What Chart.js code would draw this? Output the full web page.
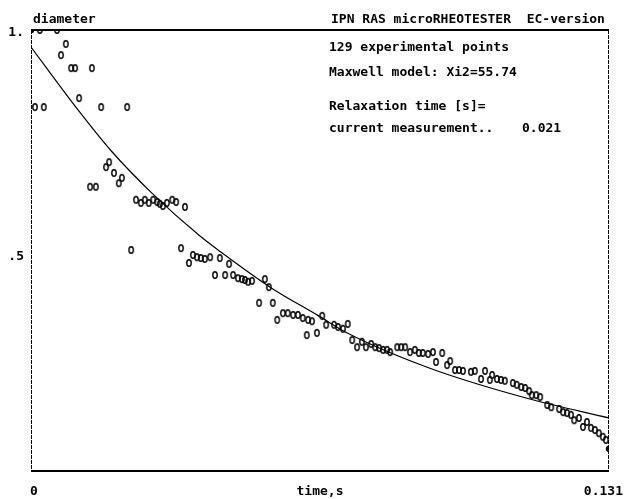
<!DOCTYPE html>
<html>
<head>
<meta charset="utf-8">
<script src="https://cdn.jsdelivr.net/npm/chart.js@4.4.1/dist/chart.umd.min.js"></script>
<style>
  body { margin: 0; background: #fff; }
  #wrap { width: 625px; height: 499px; }
</style>
</head>
<body>
<div id="wrap"><canvas id="relax" width="625" height="499"></canvas></div>
<script>
// measured points: time [s] and relative diameter
var times = [0, 0.0009, 0.0020, 0.0029, 0.0059, 0.0068, 0.0079, 0.0091, 0.0100, 0.0109,
    0.0134, 0.0138, 0.0147, 0.0159, 0.0170, 0.0177, 0.0188, 0.0199, 0.0206, 0.0218,
    0.0227, 0.0238, 0.0249, 0.0258, 0.0267, 0.0277, 0.0286, 0.0292, 0.0299, 0.0308,
    0.0320, 0.0329, 0.0340, 0.0349, 0.0358, 0.0367, 0.0376, 0.0385, 0.0394, 0.0406,
    0.0417, 0.0428, 0.0440, 0.0449, 0.0458, 0.0469, 0.0478, 0.0485, 0.0492, 0.0501,
    0.0517, 0.0530, 0.0539, 0.0548, 0.0558, 0.0571, 0.0582, 0.0594, 0.0605, 0.0616,
    0.0628, 0.0625, 0.0637, 0.0648, 0.0660, 0.0669, 0.0687, 0.0696, 0.0707, 0.0718,
    0.0728, 0.0739, 0.0750, 0.0759, 0.0771, 0.0780, 0.0789, 0.0798, 0.0807, 0.0814,
    0.0830, 0.0839, 0.0848, 0.0859, 0.0870, 0.0879, 0.0888, 0.0900, 0.0911, 0.0918,
    0.0932, 0.0943, 0.0950, 0.0961, 0.0970, 0.0979, 0.0997, 0.1006, 0.1020, 0.1029,
    0.1040, 0.1045, 0.1056, 0.1065, 0.1074, 0.1092, 0.1101, 0.1111, 0.1120, 0.1129,
    0.1135, 0.1145, 0.1154, 0.1170, 0.1179, 0.1197, 0.1206, 0.1215, 0.1224, 0.1231,
    0.1242, 0.1251, 0.1260, 0.1269, 0.1278, 0.1287, 0.1296, 0.1303, 0.1310];
var diameters = [1.0, 0.828, 1.0, 0.828, 1.0, 0.944, 0.969, 0.915, 0.915, 0.848,
    0.650, 0.915, 0.650, 0.828, 0.694, 0.705, 0.681, 0.658, 0.670, 0.828,
    0.509, 0.621, 0.614, 0.621, 0.614, 0.621, 0.616, 0.612, 0.607, 0.614,
    0.621, 0.616, 0.513, 0.605, 0.480, 0.498, 0.493, 0.491, 0.489, 0.493,
    0.453, 0.491, 0.453, 0.478, 0.453, 0.446, 0.444, 0.442, 0.438, 0.440,
    0.391, 0.444, 0.426, 0.391, 0.353, 0.368, 0.368, 0.364, 0.364, 0.357,
    0.353, 0.319, 0.350, 0.324, 0.362, 0.342, 0.342, 0.337, 0.333, 0.344,
    0.308, 0.292, 0.304, 0.292, 0.299, 0.292, 0.290, 0.286, 0.286, 0.281,
    0.292, 0.292, 0.292, 0.281, 0.286, 0.279, 0.279, 0.277, 0.281, 0.259,
    0.279, 0.252, 0.261, 0.241, 0.241, 0.239, 0.237, 0.239, 0.221, 0.239,
    0.219, 0.230, 0.221, 0.219, 0.217, 0.212, 0.208, 0.203, 0.201, 0.194,
    0.185, 0.185, 0.181, 0.163, 0.158, 0.154, 0.147, 0.145, 0.141, 0.129,
    0.134, 0.114, 0.125, 0.112, 0.107, 0.100, 0.092, 0.085, 0.065];

// Maxwell model curve, read at a few times
var fitTimes = [0, 0.0100, 0.0181, 0.0274, 0.0383, 0.0424, 0.0542, 0.0650, 0.0718, 0.0904, 0.1124, 0.1310];
var fitDiameters = [0.962, 0.830, 0.731, 0.636, 0.540, 0.509, 0.426, 0.363, 0.323, 0.245, 0.178, 0.134];

var yTickValues = [1.0, 0.5];
var yTickText = ['1.', '.5'];
var xTickValues = [0, 0.131];
var xTickText = ['0', '0.131'];

var header = 'IPN RAS microRHEOTESTER  EC-version';
var infoLines = ['129 experimental points', 'Maxwell model: Xi2=55.74', 'Relaxation time [s]='];
var currentLabel = 'current measurement..';
var currentValue = '0.021';

var FONT = 'bold 13px "DejaVu Sans Mono", "Liberation Mono", monospace';

// little "0" shaped marker like the old printout
function makeMarker(filled) {
    var c = document.createElement('canvas');
    c.width = 8; c.height = 10;
    var g = c.getContext('2d');
    g.beginPath();
    g.ellipse(4, 5, filled ? 2.6 : 2.2, filled ? 2.6 : 3.2, 0, 0, Math.PI * 2);
    g.lineWidth = 1.4;
    g.strokeStyle = '#000';
    g.stroke();
    if (filled) { g.fillStyle = '#000'; g.fill(); }
    return c;
}
var ring = makeMarker(false);
var dot = makeMarker(true);

var framePlugin = {
    id: 'frame',
    afterDraw: function(chart) {
        var ctx = chart.ctx;
        var a = chart.chartArea;
        var xs = chart.scales.x, ys = chart.scales.y;
        ctx.save();
        ctx.strokeStyle = '#000';
        ctx.lineWidth = 2;
        ctx.beginPath();
        ctx.moveTo(a.left, a.top); ctx.lineTo(a.right, a.top);
        ctx.moveTo(a.left, a.bottom); ctx.lineTo(a.right, a.bottom);
        ctx.stroke();
        ctx.lineWidth = 1;
        ctx.setLineDash([4, 1]);
        ctx.beginPath();
        ctx.moveTo(a.left + 0.5, a.top); ctx.lineTo(a.left + 0.5, a.bottom);
        ctx.moveTo(a.right - 0.5, a.top); ctx.lineTo(a.right - 0.5, a.bottom);
        ctx.stroke();
        ctx.setLineDash([]);

        ctx.fillStyle = '#000';
        ctx.font = FONT;
        ctx.textBaseline = 'alphabetic';

        ctx.textAlign = 'left';
        ctx.fillText('diameter', a.left + 2, a.top - 7);
        ctx.fillText(header, 331, a.top - 7);

        yTickValues.forEach(function(v, i) {
            ctx.textAlign = 'right';
            ctx.fillText(yTickText[i], a.left - 7, ys.getPixelForValue(v) + 6);
        });
        ctx.textAlign = 'center';
        ctx.fillText(xTickText[0], xs.getPixelForValue(xTickValues[0]) + 3, a.bottom + 24);
        ctx.fillText('time,s', (a.left + a.right) / 2, a.bottom + 24);
        ctx.textAlign = 'right';
        ctx.fillText(xTickText[1], xs.getPixelForValue(xTickValues[1]) + 14, a.bottom + 24);

        ctx.textAlign = 'left';
        var y = a.top + 21;
        infoLines.forEach(function(t, i) {
            ctx.fillText(t, 329, y);
            y += i === 1 ? 34 : 25;
        });
        ctx.fillText(currentLabel, 329, y - 3);
        ctx.fillText(currentValue, 522, y - 3);
        ctx.restore();
    }
};

var points = times.map(function(t, i) { return {x: t, y: diameters[i]}; });
var curve = fitTimes.map(function(t, i) { return {x: t, y: fitDiameters[i]}; });

new Chart(document.getElementById('relax'), {
    type: 'scatter',
    data: {
        datasets: [{
            label: 'diameter',
            data: points,
            pointStyle: function(c) {
                return (c.dataIndex === 0 || c.dataIndex === points.length - 1) ? dot : ring;
            },
            pointRadius: 4
        }, {
            label: 'Maxwell model',
            data: curve,
            showLine: true,
            pointRadius: 0,
            borderColor: '#000',
            borderWidth: 1.2,
            cubicInterpolationMode: 'monotone'
        }]
    },
    options: {
        responsive: false,
        animation: false,
        devicePixelRatio: 1,
        layout: { padding: { left: 31, top: 30, right: 16, bottom: 28 } },
        plugins: { legend: { display: false }, tooltip: { enabled: false } },
        scales: {
            x: { type: 'linear', min: 0, max: 0.131, display: false },
            y: { type: 'linear', min: 0.0156, max: 1.0, display: false }
        }
    },
    plugins: [framePlugin]
});
</script>
</body>
</html>
